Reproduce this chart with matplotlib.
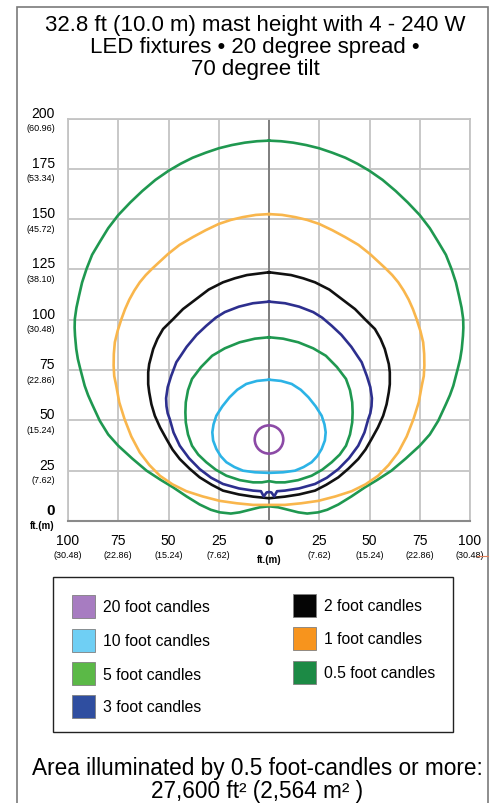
import matplotlib.pyplot as plt
from matplotlib.patches import Rectangle, Ellipse
from matplotlib.lines import Line2D
import matplotlib.transforms as mtransforms

plt.rcParams['font.family'] = ['Liberation Sans', 'DejaVu Sans']

W, H = 499, 804

# ---- 축 눈금 ----
y_ticks = [0, 25, 50, 75, 100, 125, 150, 175, 200]
y_metric = ['', '(7.62)', '(15.24)', '(22.86)', '(30.48)', '(38.10)', '(45.72)', '(53.34)', '(60.96)']
x_ticks = [-100, -75, -50, -25, 0, 25, 50, 75, 100]
x_labels = ['100', '75', '50', '25', '0', '25', '50', '75', '100']
x_metric = ['(30.48)', '(22.86)', '(15.24)', '(7.62)', '', '(7.62)', '(15.24)', '(22.86)', '(30.48)']

# ---- 등조도선 (오른쪽 절반, 위 -> 아래, ft) ----
fc05 = [(0, 189), (6, 188.7), (12, 188), (18.5, 186.8), (25, 185.2), (31.5, 183), (38, 180.5),
        (44, 177.5), (50, 174), (56.5, 169.5), (63, 164), (69, 158.3), (75, 152), (80, 145.5),
        (84, 139), (88, 132.3), (90.8, 125.2), (93, 118.5), (94.5, 112), (95.8, 106),
        (96.6, 100.4), (96.7, 96), (96.5, 92), (95.9, 85.5), (95.1, 80.5), (94, 76),
        (91.7, 67.2), (90, 62.5), (88, 58), (84.2, 49.8), (80, 43), (75, 37.4), (68, 31),
        (60.9, 25), (54, 20.5), (47.7, 16.7), (41, 12.2), (34.5, 8.2), (29, 5.6), (24.5, 4.3),
        (19, 3.7), (14.6, 4.3), (9, 5.7), (4.6, 6.8), (0, 7.3)]
fc1 = [(0, 152.5), (6.5, 152.1), (13, 151), (19, 149.6), (25, 147.6), (31.5, 144.5), (38, 141),
       (44.5, 137.2), (50.2, 132.7), (58, 125.5), (61.3, 122.2), (64.3, 118.6), (67, 114.5),
       (69.5, 110), (71.6, 105.3), (73.4, 100.4), (75.3, 94.5), (76.7, 88.8), (77.2, 83),
       (77.3, 77.2), (77, 72), (76, 67.2), (74.5, 59), (71.9, 50.7), (68.5, 42), (64.3, 34.1),
       (59.5, 27.8), (54.3, 22.5), (48, 18.2), (41.1, 14.8), (33, 12.2), (24.5, 10),
       (16, 8.8), (7.9, 8), (0, 8)]
fc2 = [(0, 123.6), (11, 122.2), (17, 120.6), (22.9, 118.6), (30, 115), (36.2, 110.3),
       (42.8, 105.3), (48, 100), (52.7, 95.4), (55.5, 90.5), (57.6, 85.5), (59.6, 78),
       (60.1, 73.9), (60.1, 68), (59.6, 64), (58.5, 58), (56.8, 52.3), (54.2, 46.5), (51, 40.7),
       (48, 35.5), (44.4, 30.8), (39.5, 26), (34.5, 21.7), (28.5, 18), (22.9, 15.1),
       (15, 13.2), (7.9, 12.1), (0, 11.3)]
fc3 = [(0, 109), (8, 108.2), (15, 106.5), (22, 103.8), (26.5, 101), (31.2, 97), (36, 92.5),
       (41, 86.5), (44, 82), (46.1, 78.9), (48.7, 72), (50.4, 66.5), (51.2, 61), (51, 57),
       (50.4, 53.5), (49.4, 50.7), (47.5, 44), (44.4, 37.4), (39.8, 31.2), (34.5, 25.8),
       (28.8, 21.5), (22.9, 18.4), (15, 16.2), (7.9, 15.1), (4, 14.8), (2.6, 12.2), (1.2, 14.2),
       (0, 14.4)]
fc5 = [(0, 91.3), (7, 90.6), (14.6, 88.8), (22, 85.8), (28.3, 82.1), (33.8, 76.5), (38.3, 70.6),
       (40.3, 65), (41.4, 59), (41.6, 54), (41.4, 49), (40.3, 43), (38.3, 37.4), (35.2, 33),
       (31.2, 29.2), (26.5, 25.5), (21.2, 22.5), (14.5, 20.3), (7.9, 19.2), (3.5, 19.2), (0, 19.8)]
fc10 = [(0, 70.2), (6, 69.6), (11.3, 68.1), (15.8, 65.2), (19.6, 61.5), (23.2, 57), (26.2, 52.3),
        (27.6, 48), (28.2, 44.1), (27.8, 40), (26.2, 35.8), (24, 32.2), (21.2, 29.2),
        (17.2, 26.8), (12.9, 25), (7, 24.2), (0, 23.9)]
fc20_center = (0, 40.5)
fc20_size = (14.2, 14.0)

curves = [fc05, fc1, fc2, fc3, fc5, fc10]
curve_colors = ['#1f9850', '#f9b64c', '#111111', '#2d2f8e', '#1f9850', '#2cb3e6']
purple = '#8c4aa6'

# ---- 범례 ----
leg_labels = ['20 foot candles', '10 foot candles', '5 foot candles', '3 foot candles',
              '2 foot candles', '1 foot candles', '0.5 foot candles']
leg_colors = ['#a77cc1', '#6fcff4', '#5bb947', '#2f4ea0', '#050505', '#f7941d', '#1c8a45']


def fx(px):
    return px / W


def fy(py):
    return 1 - py / H


fig = plt.figure(figsize=(W / 100, H / 100), dpi=100)

# 바깥 테두리
fig.add_artist(Rectangle((fx(17), -0.02), fx(488) - fx(17), fy(8) + 0.02,
                         transform=fig.transFigure, fill=False, ec='#7a7a7a', lw=1.2))

ax = fig.add_axes([fx(68), fy(522), fx(470) - fx(68), fy(119.5) - fy(522)])
ax.set_xlim(-100, 100)
ax.set_ylim(0, 200)
ax.set_xticks(x_ticks)
ax.set_yticks(y_ticks)
ax.tick_params(length=0, labelbottom=False, labelleft=False)
ax.grid(True, color='#c4c4c4', lw=1.3)
ax.set_axisbelow(True)
for s in ['left', 'right', 'top']:
    ax.spines[s].set_color('#c4c4c4')
    ax.spines[s].set_linewidth(1.3)
ax.spines['bottom'].set_color('#8a8a8a')
ax.spines['bottom'].set_linewidth(1.5)
ax.axvline(0, color='#7a7a7a', lw=1.3, zorder=1)

for pts, c in zip(curves, curve_colors):
    xs, ys = zip(*pts)
    full_x = list(xs) + [-x for x in reversed(xs)]
    full_y = list(ys) + list(reversed(ys))
    ax.plot(full_x, full_y, color=c, lw=1.9, solid_joinstyle='round', zorder=3)

ax.add_patch(Ellipse(fc20_center, fc20_size[0], fc20_size[1], fill=False,
                     ec=purple, lw=1.9, zorder=3))

# y 눈금 라벨
ytrans = mtransforms.blended_transform_factory(ax.transAxes, ax.transData)
lx = (55 - 68) / 402
for v, m in zip(y_ticks, y_metric):
    if v == 0:
        t = mtransforms.offset_copy(ytrans, fig=fig, y=11, units='dots')
        ax.text(lx, v, '0', transform=t, ha='right', va='center', fontsize=11, weight='bold')
        t = mtransforms.offset_copy(ytrans, fig=fig, y=-4, units='dots')
        ax.text(lx, v, 'ft.(m)', transform=t, ha='right', va='center', fontsize=7, weight='bold')
        continue
    t = mtransforms.offset_copy(ytrans, fig=fig, y=6, units='dots')
    ax.text(lx, v, str(v), transform=t, ha='right', va='center', fontsize=10)
    t = mtransforms.offset_copy(ytrans, fig=fig, y=-9, units='dots')
    ax.text(lx, v, m, transform=t, ha='right', va='center', fontsize=6.5)

# x 눈금 라벨
xtrans = mtransforms.blended_transform_factory(ax.transData, ax.transAxes)
for v, lab, m in zip(x_ticks, x_labels, x_metric):
    if v == 0:
        ax.text(v, -19 / 402.5, lab, transform=xtrans, ha='center', va='center',
                fontsize=11, weight='bold')
        ax.text(v, -38 / 402.5, 'ft.(m)', transform=xtrans, ha='center', va='center',
                fontsize=7, weight='bold')
        continue
    ax.text(v, -19 / 402.5, lab, transform=xtrans, ha='center', va='center', fontsize=10)
    ax.text(v, -34 / 402.5, m, transform=xtrans, ha='center', va='center', fontsize=6.5)

fig.add_artist(Line2D([fx(477), fx(488)], [fy(557), fy(557)], transform=fig.transFigure,
                      color='#e0805a', lw=0.8))

# 제목
title_lines = ['32.8 ft (10.0 m) mast height with 4 - 240 W',
               'LED fixtures \u2022 20 degree spread \u2022',
               '70 degree tilt']
for line, py in zip(title_lines, [25, 47.5, 70]):
    fig.text(fx(255), fy(py), line, ha='center', va='center', fontsize=16)

# 범례 박스
fig.add_artist(Rectangle((fx(53), fy(733)), fx(453) - fx(53), fy(578) - fy(733),
                         transform=fig.transFigure, fill=False, ec='#222222', lw=1.0))
leg_pos = [(72, 607), (72, 641), (72, 674), (72, 707), (293, 606), (293, 639), (293, 673)]
for lab, c, (px, py) in zip(leg_labels, leg_colors, leg_pos):
    fig.add_artist(Rectangle((fx(px), fy(py + 11.5)), 23 / W, 23 / H, transform=fig.transFigure,
                             fc=c, ec='#808080', lw=0.6))
    fig.text(fx(px + 31), fy(py + 1), lab, ha='left', va='center', fontsize=11.3)

# 하단 문구
fig.text(fx(257), fy(769), 'Area illuminated by 0.5 foot-candles or more:',
         ha='center', va='center', fontsize=16.3)
fig.text(fx(257), fy(792), '27,600 ft\u00b2 (2,564 m\u00b2 )',
         ha='center', va='center', fontsize=16.3)

fig.savefig('out.png', dpi=100)
